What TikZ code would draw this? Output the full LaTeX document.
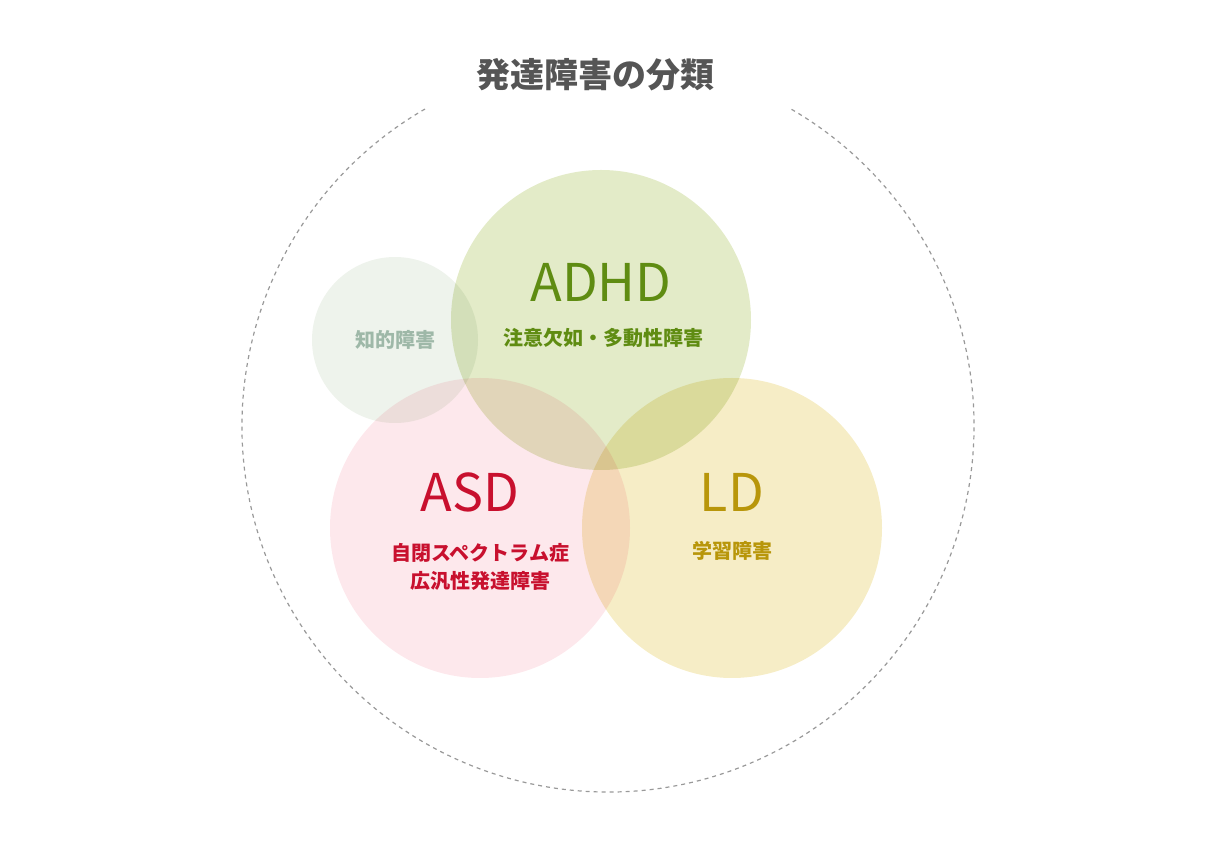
\documentclass[tikz,border=0pt]{standalone}
\usepackage{fontspec}
\setmainfont{Noto Sans CJK JP}
\newfontfamily\jpb{Noto Sans CJK JP}[BoldFont={* Bold}]
\definecolor{gfill}{HTML}{E3EBC8}
\definecolor{gtxt}{HTML}{5F8C12}
\definecolor{kfill}{HTML}{EEF3EC}
\definecolor{ktxt}{HTML}{9EB8A8}
\definecolor{pfill}{HTML}{FDE8EC}
\definecolor{ptxt}{HTML}{C8102E}
\definecolor{yfill}{HTML}{F6EDC6}
\definecolor{ytxt}{HTML}{B8960A}
\definecolor{ttl}{HTML}{555555}
\tikzset{circ/.style={draw=none},
 big/.style={font=\fontsize{26}{30}\selectfont},
 sub/.style={font=\fontsize{10}{14}\selectfont\bfseries, align=center}}
\begin{document}
\begin{tikzpicture}[x=0.5pt,y=0.5pt]
\useasboundingbox (0,0) rectangle (1217,852);
\node[font=\fontsize{17}{20}\selectfont\bfseries, text=ttl] (title) at (595,777) {発達障害の分類};
\coordinate (c0) at (608,426);
\draw[dashed, gray!80, line width=0.6pt, dash pattern=on 2pt off 2pt] (c0) ++(120:366) arc (120:420:366);
\begin{scope}[blend group=multiply]
\fill[kfill] (395,512) circle (83);
\fill[gfill] (601,532) circle (150);
\fill[pfill] (480,324) circle (150);
\fill[yfill] (732,324) circle (150);
\end{scope}
\node[sub, text=ktxt] (k) at (395,512) {知的障害};
\node[big, text=gtxt] (adhd) at (601,570) {ADHD};
\node[sub, text=gtxt] (adhds) at (603,514) {注意欠如・多動性障害};
\node[big, text=ptxt] (asd) at (470,360) {ASD};
\node[sub, text=ptxt] (asds) at (480,285) {自閉スペクトラム症\\広汎性発達障害};
\node[big, text=ytxt] (ld) at (732,360) {LD};
\node[sub, text=ytxt] (lds) at (732,301) {学習障害};
\end{tikzpicture}
\end{document}
